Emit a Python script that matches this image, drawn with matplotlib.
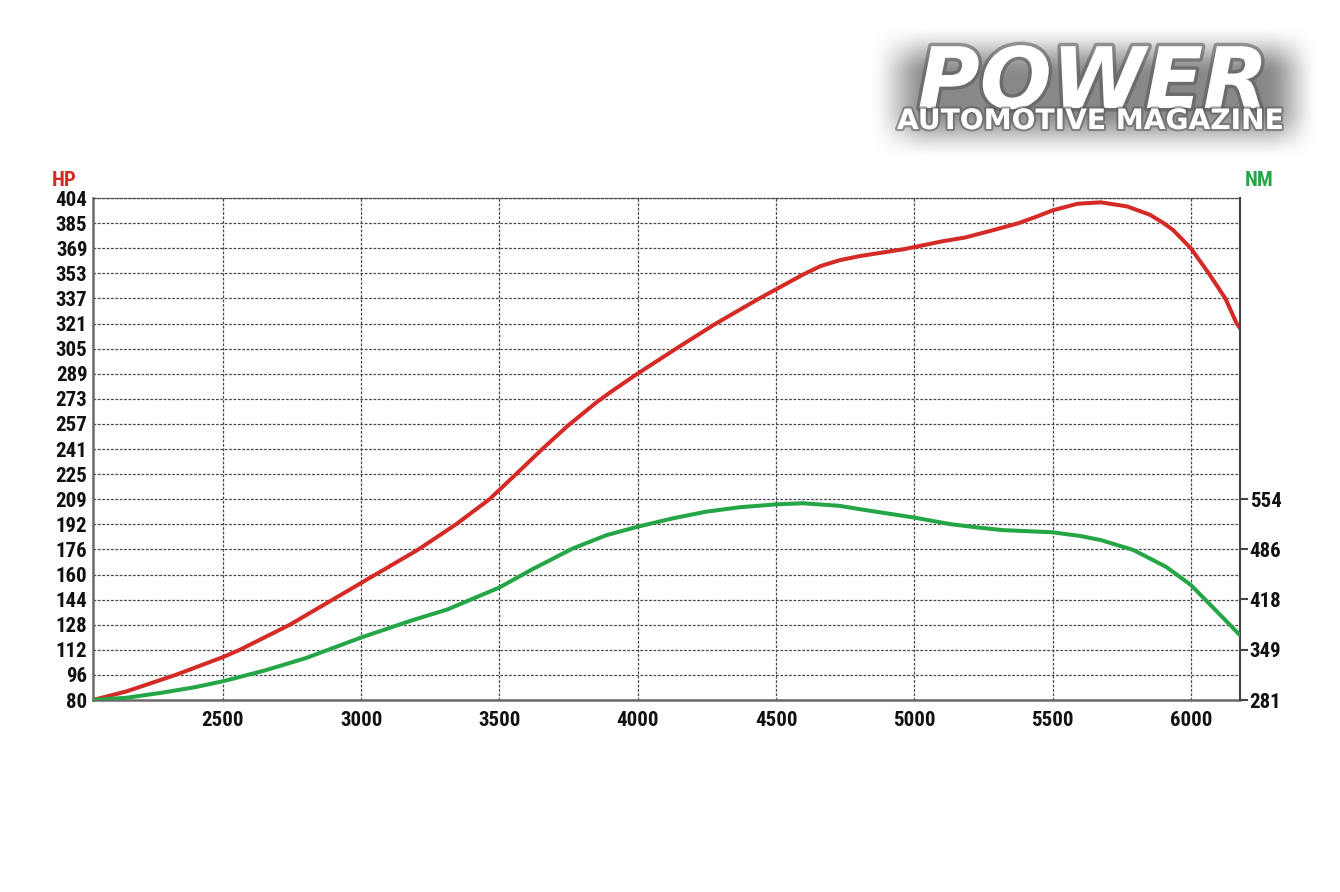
import numpy as np
import matplotlib
matplotlib.use("Agg")
import matplotlib.pyplot as plt
import matplotlib.patheffects as pe

# ---------------- data ----------------
rpm_hp = [2030, 2150, 2329, 2500, 2561, 2742, 2897, 3052, 3207, 3343, 3464, 3560,
          3655, 3747, 3850, 3900, 3994, 4139, 4283, 4440, 4597, 4660, 4729, 4802,
          4964, 5100, 5184, 5280, 5378, 5450, 5500, 5591, 5674, 5769, 5852, 5900,
          5935, 6000, 6065, 6125, 6166, 6178]
hp = [80, 85.5, 96.2, 107.7, 112.4, 128.6, 144.8, 161, 177.2, 193.4, 209.6, 225.8,
      242, 257, 272, 278.5, 290, 306.8, 323, 339.2, 354.5, 360, 363.8, 366.5,
      371, 376, 378.5, 383, 387.8, 392.5, 396, 400.3, 401.2, 398.6, 393.2, 388,
      383.5, 371.6, 355.4, 339.2, 323, 320]

rpm_nm = [2030, 2150, 2281, 2400, 2500, 2650, 2800, 3000, 3181, 3311, 3500, 3620,
          3765, 3886, 4000, 4127, 4247, 4368, 4500, 4596, 4729, 4802, 4879, 5000,
          5132, 5230, 5319, 5500, 5600, 5674, 5792, 5911, 6000, 6077, 6141, 6178]
nm = [281, 284, 291, 298.5, 306.5, 321, 338, 366, 389, 404, 434, 459,
      487, 505, 516.6, 528, 537, 543, 547, 548.5, 545, 540.5, 536, 529,
      520, 515.5, 512, 509, 504, 498.5, 485, 462, 437.5, 408, 383.4, 369]

hp_tick_labels = ['80', '96', '112', '128', '144', '160', '176', '192', '209', '225',
                  '241', '257', '273', '289', '305', '321', '337', '353', '369', '385', '404']
nm_ticks = [281, 349, 418, 486, 554]
rpm_ticks = [2500, 3000, 3500, 4000, 4500, 5000, 5500, 6000]

RED = '#d52b27'
GREEN = '#25a646'
GRID = '#4a4a4a'
FONT = ['Roboto Condensed', 'Liberation Sans Narrow', 'DejaVu Sans']

W, H = 1340, 892
fig = plt.figure(figsize=(W / 100, H / 100), dpi=100)
fig.patch.set_facecolor('white')

ax = fig.add_axes([93 / W, 1 - 700 / H, (1240 - 93) / W, (700 - 198) / H])
ax.set_xlim(2030, 6178)
ax.set_ylim(80, 404)
hp_pos = np.linspace(80, 404, len(hp_tick_labels))
ax.set_yticks(hp_pos)
ax.set_yticklabels(hp_tick_labels)
ax.set_xticks(rpm_ticks)
ax.set_xticklabels([str(r) for r in rpm_ticks])
ax.set_axisbelow(True)
ax.grid(True, color=GRID, linestyle=(0, (2.2, 1.3)), linewidth=0.9)

ax.plot(rpm_hp, hp, color=RED, lw=2.9, solid_capstyle='round',
        solid_joinstyle='round', zorder=3)

ax.spines['right'].set_visible(False)
ax.spines['top'].set_linestyle((0, (2.2, 1.3)))
ax.spines['top'].set_color(GRID)
ax.spines['top'].set_linewidth(0.9)
for s in ['left', 'bottom']:
    ax.spines[s].set_color('#6a6a6a')
    ax.spines[s].set_linewidth(1.8)

ax.tick_params(axis='y', length=0, pad=4, labelsize=15)
ax.tick_params(axis='x', length=0, pad=8, labelsize=15)
for lab in ax.get_yticklabels() + ax.get_xticklabels():
    lab.set_fontweight('bold')
    lab.set_family(FONT)
    lab.set_color('#111111')

ax2 = ax.twinx()
ax2.set_ylim(281, 281 + 20 * 34.125)
ax2.set_yticks(nm_ticks)
ax2.set_yticklabels([str(v) for v in nm_ticks])
ax2.plot(rpm_nm, nm, color=GREEN, lw=2.9, solid_capstyle='round',
         solid_joinstyle='round', zorder=3)
for s in ['left', 'top', 'bottom']:
    ax2.spines[s].set_visible(False)
ax2.spines['right'].set_color('#444444')
ax2.spines['right'].set_linewidth(1.5)
ax2.tick_params(axis='y', length=6, width=1.5, color='#444444', pad=1, labelsize=15)
for lab in ax2.get_yticklabels():
    lab.set_fontweight('bold')
    lab.set_family(FONT)
    lab.set_color('#111111')

fig.text(52 / W, 1 - 181 / H, 'HP', color=RED, fontsize=15, fontweight='bold',
         family=FONT, va='center', ha='left')
fig.text(1245 / W, 1 - 181 / H, 'NM', color=GREEN, fontsize=15, fontweight='bold',
         family=FONT, va='center', ha='left')

# ---------------- logo ----------------
lax = fig.add_axes([868 / W, 1 - 160 / H, 452 / W, 135 / H])
lax.set_xlim(0, 1)
lax.set_ylim(0, 1)
lax.axis('off')
nx, ny = 300, 120
gx = np.linspace(0, 1, nx)
gy = np.linspace(0, 1, ny)
def ramp(t, a, b):
    u = np.clip((t - a) / (b - a), 0, 1)
    return u * u * (3 - 2 * u)
fx = ramp(gx, 0.0, 0.14) * ramp(1 - gx, 0.0, 0.12)
fy = ramp(gy, 0.0, 0.38) * ramp(1 - gy, 0.0, 0.38)
alpha = np.outer(fy, fx) * 0.8
img = np.zeros((ny, nx, 4))
img[..., :3] = 0.42
img[..., 3] = alpha
lax.imshow(img, extent=[0, 1, 0, 1], aspect='auto', origin='lower', zorder=0)

glow = [pe.withStroke(linewidth=5, foreground='#555555', alpha=0.55)]
t1 = fig.text(1093 / W, 1 - 108 / H, 'POWER', color='white', fontsize=61,
              fontweight='heavy', style='italic', family='DejaVu Sans',
              ha='center', va='baseline', path_effects=glow)
t2 = fig.text(897 / W, 1 - 129 / H, 'AUTOMOTIVE MAGAZINE', color='white', fontsize=16,
              fontweight='bold', family='DejaVu Sans', ha='left', va='baseline',
              path_effects=[pe.withStroke(linewidth=3, foreground='#555555', alpha=0.55)])
fig.canvas.draw()
r = fig.canvas.get_renderer()
w = t2.get_window_extent(r).width
t2.set_fontsize(t2.get_fontsize() * (1284 - 897) / w)

fig.savefig('out.png', dpi=100, facecolor='white')
